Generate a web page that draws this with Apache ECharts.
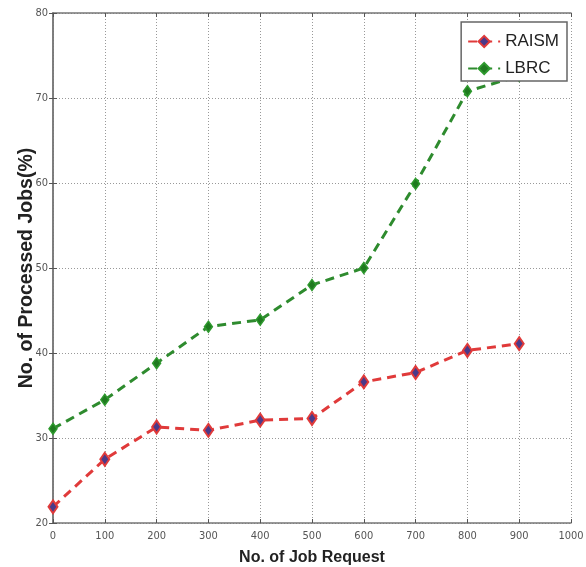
<!DOCTYPE html>
<html>
<head>
<meta charset="utf-8">
<script src="https://cdn.jsdelivr.net/npm/echarts@6/dist/echarts.min.js"></script>
<style>
  html, body { margin: 0; padding: 0; background: #fff; }
  #chart { width: 586px; height: 567px; }
</style>
</head>
<body>
<div id="chart"></div>
<script>
// job requests on x axis
const jobRequests = [0, 100, 200, 300, 400, 500, 600, 700, 800, 900]
// processed jobs (%)
const raism = [21.9, 27.5, 31.3, 30.9, 32.1, 32.3, 36.6, 37.7, 40.3, 41.1]
const lbrc = [31.1, 34.5, 38.8, 43.1, 43.9, 48.0, 50.0, 59.9, 70.8, 72.6]

const tickFont = {
  color: '#555',
  fontFamily: 'DejaVu Sans Condensed, Liberation Sans',
  fontSize: 11,
}
const gridLine = {
  show: true,
  lineStyle: { color: '#999', type: [1, 2], width: 1 },
}
const axisLine = { show: true, lineStyle: { color: '#777', width: 1.5 } }
const innerTicks = { show: true, inside: true, length: 4, lineStyle: { color: '#555' } }

let chart = echarts.init(document.getElementById('chart'))
chart.setOption({
  animation: false,
  grid: { left: 53, right: 15, top: 13, bottom: 44, outerBoundsMode: 'none', containLabel: false },
  legend: {
    right: 19,
    top: 22,
    orient: 'vertical',
    backgroundColor: '#fff',
    borderColor: '#666',
    borderWidth: 1.5,
    borderRadius: 0,
    padding: [11, 8, 4, 6],
    itemGap: 10,
    itemWidth: 32,
    itemHeight: 14,
    textStyle: {
      fontFamily: 'Liberation Sans',
      fontSize: 17,
      color: '#222',
    },
    data: ['RAISM', 'LBRC'],
  },
  xAxis: [
    {
      type: 'value',
      min: 0,
      max: 1000,
      interval: 100,
      name: 'No. of Job Request',
      nameLocation: 'middle',
      nameGap: 27,
      nameMoveOverlap: false,
      nameTextStyle: { fontFamily: 'Liberation Sans', fontWeight: 'bold', fontSize: 16, color: '#222' },
      axisLine: axisLine,
      axisTick: innerTicks,
      axisLabel: Object.assign({ margin: 8, formatter: (v) => String(v) }, tickFont),
      splitLine: gridLine,
    },
    {
      type: 'value',
      position: 'top',
      min: 0,
      max: 1000,
      interval: 100,
      axisLine: axisLine,
      axisTick: innerTicks,
      axisLabel: { show: false },
      splitLine: { show: false },
    },
  ],
  yAxis: [
    {
      type: 'value',
      min: 20,
      max: 80,
      interval: 10,
      name: 'No. of Processed Jobs(%)',
      nameLocation: 'middle',
      nameGap: 16,
      nameMoveOverlap: false,
      nameTextStyle: { fontFamily: 'Liberation Sans', fontWeight: 'bold', fontSize: 19.5, color: '#222' },
      axisLine: axisLine,
      axisTick: innerTicks,
      axisLabel: Object.assign({ margin: 5 }, tickFont),
      splitLine: gridLine,
    },
    {
      type: 'value',
      position: 'right',
      min: 20,
      max: 80,
      interval: 10,
      axisLine: axisLine,
      axisTick: innerTicks,
      axisLabel: { show: false },
      splitLine: { show: false },
    },
  ],
  series: [
    {
      name: 'RAISM',
      type: 'line',
      symbol: 'diamond',
      symbolSize: [9, 13],
      itemStyle: { color: '#4a3a8a', borderColor: '#e03a3a', borderWidth: 2 },
      lineStyle: { color: '#e03a3a', width: 3, type: [9, 6] },
      data: jobRequests.map((x, i) => [x, raism[i]]),
      z: 3,
    },
    {
      name: 'LBRC',
      type: 'line',
      symbol: 'diamond',
      symbolSize: [8, 11],
      itemStyle: { color: '#1f7a1f', borderColor: '#2e9a2e', borderWidth: 1.5 },
      lineStyle: { color: '#2e8b2e', width: 3, type: [9, 6] },
      data: jobRequests.map((x, i) => [x, lbrc[i]]),
      z: 2,
    },
  ],
})
</script>
</body>
</html>
